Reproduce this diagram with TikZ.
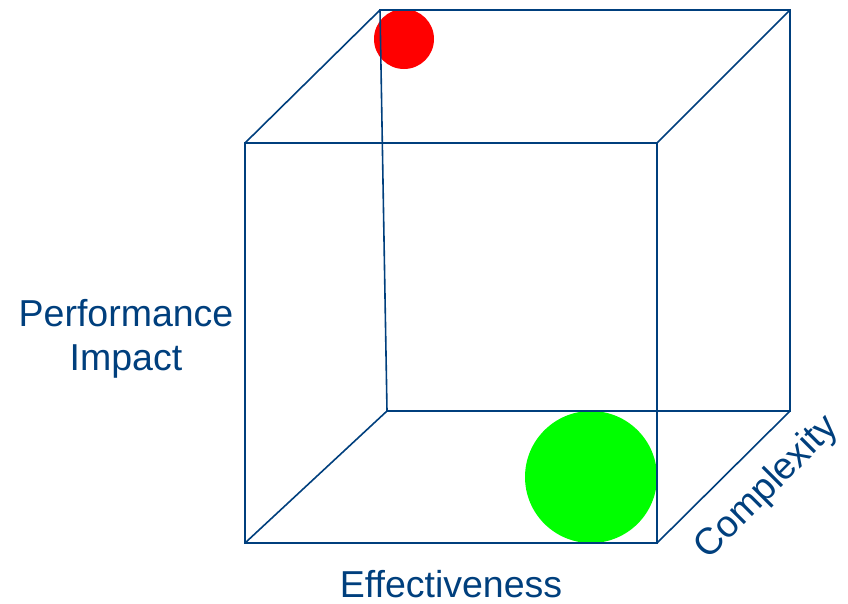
\documentclass[tikz,border=0pt]{standalone}
\usepackage{fontspec}
\setmainfont{Liberation Sans}
\definecolor{cubeblue}{HTML}{003F7D}
\begin{document}
\begin{tikzpicture}[x=1pt,y=-1pt,
    edge/.style={draw=cubeblue, line width=1.6pt},
    axislabel/.style={text=cubeblue, font=\fontsize{37.5}{44}\selectfont, inner sep=0pt}]
    \useasboundingbox (0,0) rectangle (848,603);
    % cube corners
    \coordinate (ftl) at (245,143);
    \coordinate (ftr) at (657,143);
    \coordinate (fbr) at (657,543);
    \coordinate (fbl) at (245,543);
    \coordinate (btl) at (380,10);
    \coordinate (btr) at (790,10);
    \coordinate (bbr) at (790,411);
    \coordinate (bbl) at (387,411);
    % points
    \fill[red] (404,39) circle (30);
    \fill[green] (591,477) circle (66);
    % edges
    \draw[edge] (ftl) -- (ftr) -- (fbr) -- (fbl) -- cycle;
    \draw[edge] (btl) -- (btr) -- (bbr) -- (bbl) -- cycle;
    \draw[edge] (ftl) -- (btl);
    \draw[edge] (ftr) -- (btr);
    \draw[edge] (fbr) -- (bbr);
    \draw[edge] (fbl) -- (bbl);
    % labels
    \node[axislabel, align=center] (perf) at (126,339) {Performance\\Impact};
    \node[axislabel] (eff) at (451,584) {Effectiveness};
    \node[axislabel, rotate=45] (cplx) at (767,488) {Complexity};
\end{tikzpicture}
\end{document}
